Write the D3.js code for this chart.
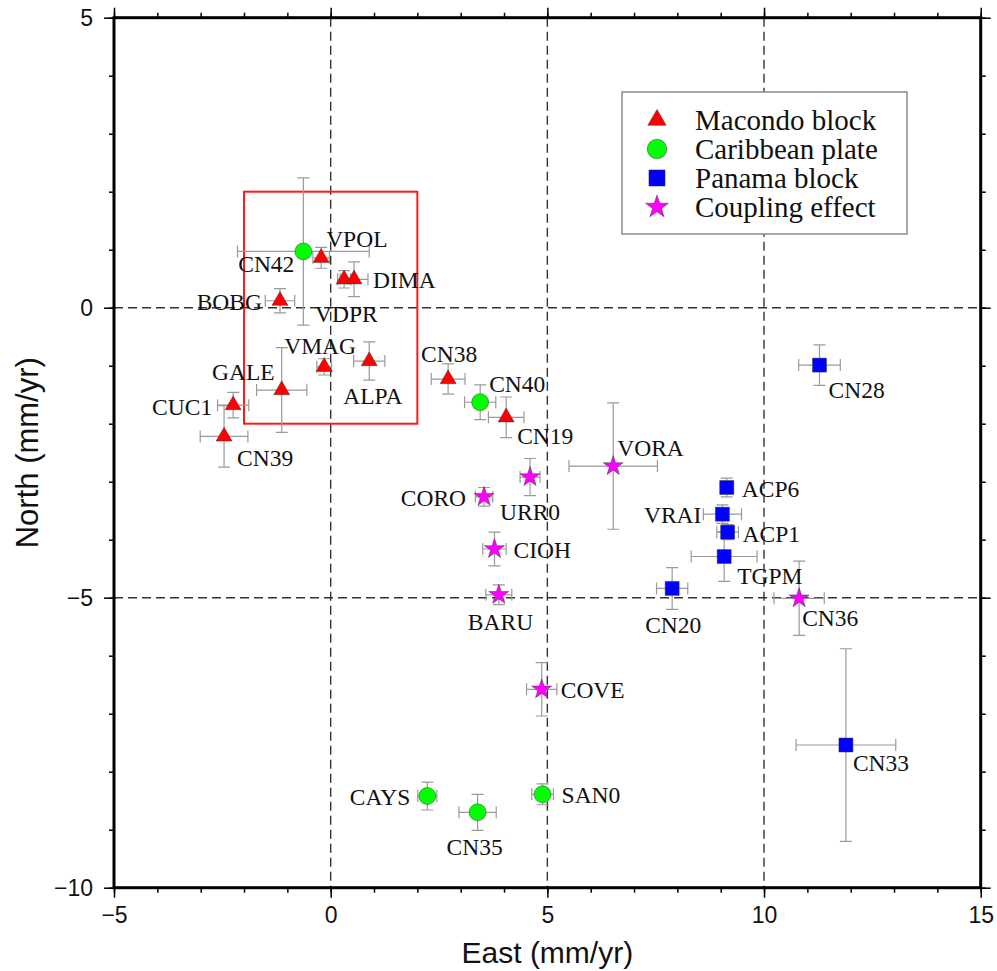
<!DOCTYPE html>
<html>
<head>
<meta charset="utf-8">
<script src="https://cdn.jsdelivr.net/npm/d3@7"></script>
<style>
  html, body { margin: 0; padding: 0; background: #fff; }
  svg { display: block; }
</style>
</head>
<body>
<script>
// GPS station velocities (mm/yr) with 1-sigma uncertainties
const stations = ["VPOL","CN42","VDPR","DIMA","BOBG","VMAG","ALPA","GALE","CUC1","CN39",
                  "CN38","CN40","CN19","URR0","VORA","CORO","CIOH","BARU","CN20","CN28",
                  "ACP6","VRAI","ACP1","TGPM","CN36","COVE","CAYS","CN35","SAN0","CN33"];
const groups   = ["Macondo block","Caribbean plate","Macondo block","Macondo block","Macondo block",
                  "Macondo block","Macondo block","Macondo block","Macondo block","Macondo block",
                  "Macondo block","Caribbean plate","Macondo block","Coupling effect","Coupling effect",
                  "Coupling effect","Coupling effect","Coupling effect","Panama block","Panama block",
                  "Panama block","Panama block","Panama block","Panama block","Coupling effect",
                  "Coupling effect","Caribbean plate","Caribbean plate","Caribbean plate","Panama block"];
const east     = [-0.22,-0.63, 0.31, 0.54,-1.17,-0.15, 0.89,-1.13,-2.25,-2.46,
                   2.71, 3.45, 4.05, 4.60, 6.52, 3.54, 3.78, 3.88, 7.88,11.28,
                   9.14, 9.04, 9.16, 9.08,10.81, 4.87, 2.23, 3.39, 4.89,11.89];
const north    = [ 0.86, 0.97, 0.49, 0.49, 0.12,-1.02,-0.92,-1.42,-1.68,-2.22,
                  -1.23,-1.63,-1.89,-2.92,-2.73,-3.26,-4.16,-4.95,-4.84,-0.99,
                  -3.10,-3.56,-3.87,-4.29,-5.01,-6.58,-8.42,-8.70,-8.39,-7.54];
const sigEast  = [ 0.19, 1.52, 0.15, 0.32, 0.34, 0.17, 0.36, 0.58, 0.36, 0.55,
                   0.39, 0.36, 0.41, 0.23, 1.02, 0.20, 0.27, 0.30, 0.36, 0.48,
                   0.15, 0.44, 0.25, 0.76, 0.58, 0.35, 0.22, 0.43, 0.25, 1.15];
const sigNorth = [ 0.18, 1.27, 0.15, 0.30, 0.21, 0.14, 0.33, 0.73, 0.22, 0.53,
                   0.26, 0.30, 0.35, 0.32, 1.09, 0.16, 0.29, 0.17, 0.36, 0.35,
                   0.16, 0.16, 0.13, 0.43, 0.64, 0.46, 0.24, 0.31, 0.18, 1.66];

const legendLabels = ["Macondo block","Caribbean plate","Panama block","Coupling effect"];
const xTicks = [-5, 0, 5, 10, 15];
const yTicks = [5, 0, -5, -10];
const xGrid = [0, 5, 10];
const yGrid = [0, -5];
// Outline of the Macondo block study region (East min/max, North min/max)
const regionEast = [-2, 2];
const regionNorth = [-2, 2];

// Station label placement: [dx, dy, anchor] in pixels from the marker
const labelLayout = {
  VPOL:[5,-11,"start"], CN42:[-9,21,"end"], VDPR:[-29,43,"start"], DIMA:[19,9,"start"],
  BOBG:[-18,9,"end"], VMAG:[-40,-13,"start"], ALPA:[-26,43,"start"], GALE:[-7,-10,"end"],
  CUC1:[-21,10,"end"], CN39:[13,30,"start"], CN38:[-27,-17,"start"], CN40:[9,-10,"start"],
  CN19:[11,27,"start"], URR0:[-30,43,"start"], VORA:[4,-10,"start"], CORO:[-18,9,"end"],
  CIOH:[19,9,"start"], BARU:[-31,35,"start"], CN20:[-27,45,"start"], CN28:[9,33,"start"],
  ACP6:[15,9,"start"], VRAI:[-21,9,"end"], ACP1:[15,10,"start"], TGPM:[13,27,"start"],
  CN36:[3,28,"start"], COVE:[19,9,"start"], CAYS:[-17,9,"end"], CN35:[-31,43,"start"],
  SAN0:[19,9,"start"], CN33:[7,26,"start"]
};

const colors = {
  "Macondo block": "#ff0000",
  "Caribbean plate": "#00ff00",
  "Panama block": "#0000ff",
  "Coupling effect": "#ff00ff"
};

const data = stations.map((s, i) => ({
  name: s, group: groups[i], e: east[i], n: north[i], se: sigEast[i], sn: sigNorth[i]
}));

const W = 997, H = 971;
const x = d3.scaleLinear().domain([-5, 15]).range([114, 980.7]);
const y = d3.scaleLinear().domain([-10, 5]).range([887.7, 17.7]);

const svg = d3.select("body").append("svg").attr("width", W).attr("height", H);
svg.append("rect").attr("width", W).attr("height", H).attr("fill", "#fff");

// Symbol paths
function starPath(R) {
  const r = R * 0.39, pts = [];
  for (let k = 0; k < 10; k++) {
    const a = -Math.PI / 2 + k * Math.PI / 5;
    const rr = k % 2 === 0 ? R : r;
    pts.push([rr * Math.cos(a), rr * Math.sin(a)]);
  }
  return "M" + pts.map(p => p[0].toFixed(2) + "," + p[1].toFixed(2)).join("L") + "Z";
}
function symbolPath(group, scale) {
  const s = scale || 1;
  if (group === "Macondo block") return d3.symbol(d3.symbolTriangle, 0.433 * Math.pow(16 * s, 2))();
  if (group === "Caribbean plate") return d3.symbol(d3.symbolCircle, Math.PI * Math.pow(8.5 * s, 2))();
  if (group === "Panama block") return d3.symbol(d3.symbolSquare, Math.pow(14 * s, 2))();
  return starPath(10.5 * s);
}

// Dashed reference lines
const grid = svg.append("g").attr("stroke", "#333").attr("stroke-width", 1.4)
  .attr("stroke-dasharray", "9,5").attr("fill", "none");
grid.selectAll("line.gx").data(xGrid).join("line")
  .attr("x1", d => x(d)).attr("x2", d => x(d)).attr("y1", y(5)).attr("y2", y(-10));
grid.selectAll("line.gy").data(yGrid).join("line")
  .attr("x1", x(-5)).attr("x2", x(15)).attr("y1", d => y(d)).attr("y2", d => y(d));

// Region box
svg.append("rect")
  .attr("x", x(regionEast[0])).attr("y", y(regionNorth[1]))
  .attr("width", x(regionEast[1]) - x(regionEast[0]))
  .attr("height", y(regionNorth[0]) - y(regionNorth[1]))
  .attr("fill", "none").attr("stroke", "#ff1a1a").attr("stroke-width", 2);

// Error bars
const cap = 6;
const eb = svg.append("g").attr("stroke", "#9a9a9a").attr("stroke-width", 1.2).attr("fill", "none");
data.forEach(d => {
  const cx = x(d.e), cy = y(d.n);
  const x0 = x(d.e - d.se), x1 = x(d.e + d.se);
  const y0 = y(d.n - d.sn), y1 = y(d.n + d.sn);
  eb.append("path").attr("d",
    `M${x0},${cy}H${x1}M${x0},${cy - cap}V${cy + cap}M${x1},${cy - cap}V${cy + cap}` +
    `M${cx},${y0}V${y1}M${cx - cap},${y0}H${cx + cap}M${cx - cap},${y1}H${cx + cap}`);
});

// Markers
svg.append("g").selectAll("path").data(data).join("path")
  .attr("transform", d => `translate(${x(d.e)},${y(d.n)})`)
  .attr("d", d => symbolPath(d.group))
  .attr("fill", d => colors[d.group])
  .attr("stroke", "#3a3a3a").attr("stroke-opacity", 0.7).attr("stroke-width", 0.7);

// Station labels
svg.append("g").selectAll("text").data(data).join("text")
  .attr("x", d => x(d.e) + labelLayout[d.name][0])
  .attr("y", d => y(d.n) + labelLayout[d.name][1])
  .attr("text-anchor", d => labelLayout[d.name][2])
  .attr("font-family", "'Liberation Serif', 'Times New Roman', serif")
  .attr("font-size", 23.5).attr("fill", "#111")
  .text(d => d.name);

// Axes: minor ticks every 1 unit, major ticks with labels every 5
const tickFont = "'Liberation Sans', Arial, Helvetica, sans-serif";
function styleAxis(g) {
  g.select(".domain").remove();
  g.selectAll(".tick line").attr("stroke", "#000").attr("stroke-width", 1.5);
  g.selectAll("text").attr("font-family", tickFont).attr("font-size", 23).attr("fill", "#111");
}
const minorX = d3.range(-5, 16), minorY = d3.range(-10, 6);
svg.append("g").attr("transform", `translate(0,${y(-10)})`)
  .call(d3.axisBottom(x).tickValues(minorX).tickSize(5).tickFormat("")).call(styleAxis);
svg.append("g").attr("transform", `translate(0,${y(-10)})`)
  .call(d3.axisBottom(x).tickValues(xTicks).tickSize(10).tickPadding(9)
    .tickFormat(d => d < 0 ? "\u2212" + Math.abs(d) : d)).call(styleAxis);
svg.append("g").attr("transform", `translate(0,${y(5)})`)
  .call(d3.axisTop(x).tickValues(minorX).tickSize(5).tickFormat("")).call(styleAxis);
svg.append("g").attr("transform", `translate(0,${y(5)})`)
  .call(d3.axisTop(x).tickValues(xTicks).tickSize(10).tickFormat("")).call(styleAxis);
svg.append("g").attr("transform", `translate(${x(-5)},0)`)
  .call(d3.axisLeft(y).tickValues(minorY).tickSize(5).tickFormat("")).call(styleAxis);
svg.append("g").attr("transform", `translate(${x(-5)},0)`)
  .call(d3.axisLeft(y).tickValues(yTicks).tickSize(10).tickPadding(11)
    .tickFormat(d => d < 0 ? "\u2212" + Math.abs(d) : d)).call(styleAxis);
svg.append("g").attr("transform", `translate(${x(15)},0)`)
  .call(d3.axisRight(y).tickValues(minorY).tickSize(5).tickFormat("")).call(styleAxis);
svg.append("g").attr("transform", `translate(${x(15)},0)`)
  .call(d3.axisRight(y).tickValues(yTicks).tickSize(10).tickFormat("")).call(styleAxis);

// Frame
svg.append("rect")
  .attr("x", x(-5)).attr("y", y(5))
  .attr("width", x(15) - x(-5)).attr("height", y(-10) - y(5))
  .attr("fill", "none").attr("stroke", "#000").attr("stroke-width", 3);

// Axis titles
svg.append("text")
  .attr("x", (x(-5) + x(15)) / 2).attr("y", 963)
  .attr("text-anchor", "middle")
  .attr("font-family", tickFont).attr("font-size", 30).attr("fill", "#111")
  .text("East (mm/yr)");
svg.append("text")
  .attr("transform", `translate(38,${(y(5) + y(-10)) / 2}) rotate(-90)`)
  .attr("text-anchor", "middle")
  .attr("font-family", tickFont).attr("font-size", 31).attr("fill", "#111")
  .text("North (mm/yr)");

// Legend
const lg = svg.append("g").attr("transform", "translate(622,92)");
lg.append("rect").attr("width", 285).attr("height", 142)
  .attr("fill", "#fff").attr("stroke", "#8a8a8a").attr("stroke-width", 1.5);
const rows = lg.selectAll("g.row").data(legendLabels).join("g")
  .attr("transform", (d, i) => `translate(35,${28 + i * 29})`);
rows.append("path")
  .attr("d", d => symbolPath(d, 1.15))
  .attr("fill", d => colors[d])
  .attr("stroke", "#3a3a3a").attr("stroke-opacity", 0.7).attr("stroke-width", 0.7);
rows.append("text")
  .attr("x", 38).attr("y", 10)
  .attr("font-family", "'Liberation Serif', 'Times New Roman', serif")
  .attr("font-size", 29).attr("fill", "#111")
  .text(d => d);
</script>
</body>
</html>
